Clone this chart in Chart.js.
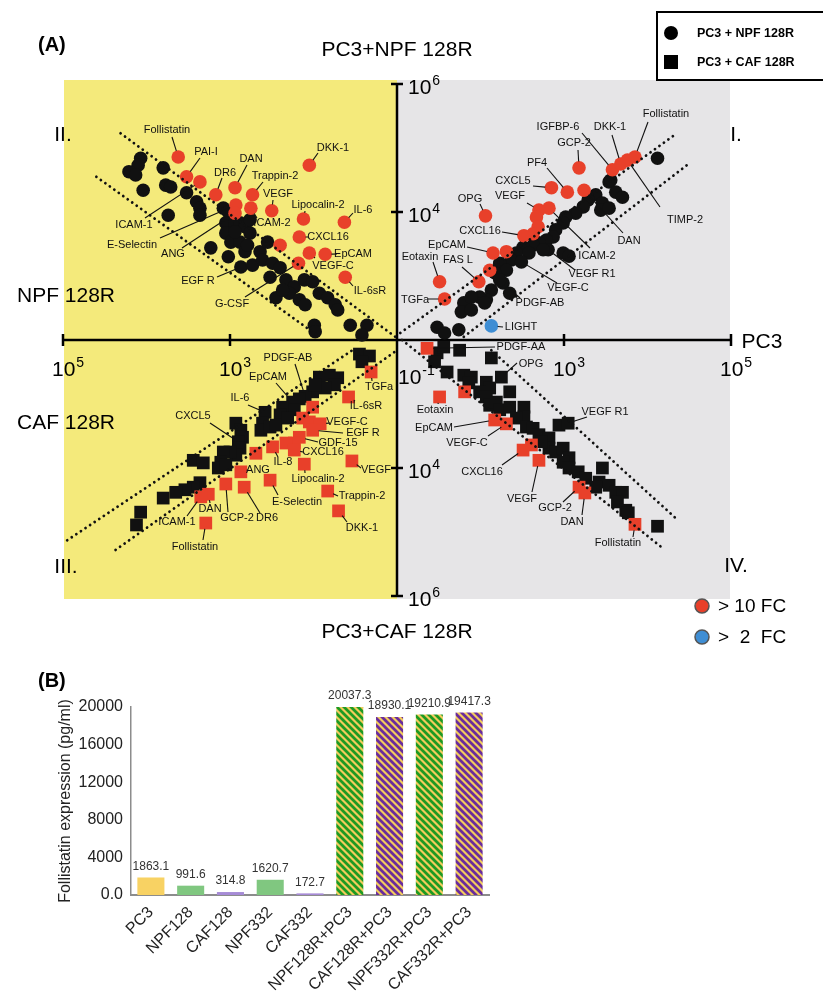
<!DOCTYPE html>
<html>
<head>
<meta charset="utf-8">
<script src="https://cdn.jsdelivr.net/npm/chart.js@4"></script>
<style>
  body { margin: 0; background: #fff; width: 823px; height: 995px; overflow: hidden; position: relative; }
  canvas { position: absolute; left: 0; }
  #quad { top: 0; }
  #bars { top: 650px; }
</style>
</head>
<body>
<canvas id="quad" width="823" height="650"></canvas>
<canvas id="bars" width="823" height="345"></canvas>
<script>
const FONT = "'Liberation Sans', Arial, Helvetica, sans-serif";
Chart.defaults.font.family = FONT;

// ---- panel A: log10 of the signal, [x, y, protein] ----
// the centre of the cross sits at x = 10^1, y = 10^2
const X0 = 1, Y0 = 2;
const xTickPowers = [3, 5];
const yTickPowers = [4, 6];

// I: PC3 (x) vs PC3+NPF 128R (y)
const q1Black = [[4.12,4.84],[3.54,4.47],[3.62,4.31],[3.38,4.27],[3.46,4.14],[3.44,4.03],[3.54,4.06],[3.70,4.23],
  [3.29,4.19],[3.23,4.08],[3.14,3.98],[3.02,3.92],[2.99,3.83],[2.90,3.72],[2.87,3.61],[2.79,3.56],[2.70,3.52],
  [2.63,3.48],[2.99,3.36],[3.06,3.31],[2.51,3.45],[2.43,3.36],[2.37,3.25],[2.23,3.20],[2.31,3.09],[2.17,3.05],
  [2.13,2.78],[2.07,2.63],[1.99,2.67],[2.27,2.89,'PDGF-AB'],[2.35,2.73],[1.80,2.58],[1.77,2.44],[1.89,2.67],
  [1.48,2.20],[1.57,2.11],[1.74,2.16],[2.05,2.58],[2.81,3.41,'VEGF R1'],[2.58,3.36],[2.75,3.41],[3.56,4.50],
  [2.49,3.22,'VEGF-C'],[2.23,2.94],[1.89,2.47]];
const q1Red = [[3.18,4.69,'GCP-2'],[3.04,4.31,'PF4'],[2.85,4.38,'CXCL5'],[3.24,4.34,'DAN'],[2.06,3.94,'OPG'],
  [2.82,4.06,'ICAM-2'],[2.70,4.03,'VEGF'],[2.67,3.92],[2.69,3.77],[2.63,3.66],[2.52,3.63,'CXCL16'],
  [2.15,3.36,'EpCAM'],[2.31,3.38],[2.11,3.09],[1.98,2.91,'FAS L'],[1.51,2.91,'Eotaxin'],[1.57,2.64,'TGFa'],
  [3.58,4.66,'IGFBP-6'],[3.68,4.75,'DKK-1'],[3.76,4.81,'TIMP-2'],[3.85,4.86,'Follistatin']];
const q1Blue = [[2.13,2.22,'LIGHT']];

// II: NPF 128R (x, to the left) vs PC3+NPF 128R (y)
const q2Black = [[4.07,4.84],[4.10,4.73],[4.21,4.63],[4.13,4.58],[3.80,4.69],[4.04,4.34],[3.77,4.42],[3.71,4.39],
  [3.52,4.30],[3.40,4.16],[3.36,4.06],[3.36,3.95],[3.74,3.95],[3.08,4.06],[3.02,4.00],[3.05,3.83],[2.94,3.83],
  [2.88,3.83],[2.82,3.77],[2.76,3.67],[3.05,3.67],[2.99,3.53],[2.88,3.53],[3.23,3.44],[3.02,3.30],[2.82,3.38],
  [2.64,3.38],[2.55,3.53],[2.87,3.14,'EGF R'],[2.73,3.17],[2.61,3.25],[2.49,3.20],[2.40,3.13],[2.52,2.98],
  [2.45,2.66],[2.33,2.94],[2.23,2.83],[2.11,2.94],[2.01,2.91],[2.29,2.73],[2.17,2.63],[2.10,2.55],[1.93,2.73],
  [1.83,2.66],[1.74,2.55],[1.71,2.47],[1.99,2.23],[1.98,2.13],[1.56,2.23],[1.36,2.23],[1.42,2.08],[2.94,3.69],
  [2.79,3.48],[2.37,2.78],[2.76,3.88]];
const q2Red = [[3.62,4.86,'Follistatin'],[3.52,4.55,'PAI-I'],[3.36,4.47,'ICAM-1'],[3.17,4.27,'DR6'],
  [2.94,4.38,'DAN'],[2.73,4.27,'Trappin-2'],[2.93,4.11,'E-Selectin'],[2.94,3.98,'ANG'],[2.75,4.06,'ICAM-2'],
  [2.50,4.02,'VEGF'],[2.05,4.73,'DKK-1'],[2.12,3.89,'Lipocalin-2'],[1.63,3.84,'IL-6'],[2.17,3.61,'CXCL16'],
  [2.05,3.36,'VEGF-C'],[1.86,3.34,'EpCAM'],[2.40,3.48],[2.18,3.20,'G-CSF'],[1.62,2.98,'IL-6sR']];

// III: CAF 128R (x, to the left) vs PC3+CAF 128R (y, downwards)
const q3Black = [[1.45,2.22],[1.33,2.25],[1.42,2.34],[1.93,2.58],[1.81,2.55],[1.71,2.59],[1.75,2.70],[1.86,2.75],
  [2.01,2.81],[2.10,2.88,'PDGF-AB'],[2.17,2.92],[2.25,2.97,'EpCAM'],[2.23,3.09],[2.37,3.05],[2.40,3.17],
  [2.58,3.13,'IL-6'],[2.61,3.30],[2.63,3.41],[2.52,3.36],[2.45,3.33],[2.93,3.30],[2.87,3.41],[2.85,3.52],
  [2.90,3.59,'CXCL5'],[2.88,3.69],[2.93,3.80],[3.00,3.75],[3.08,3.75],[3.11,3.91],[3.14,4.00],[3.05,3.95],
  [3.44,3.88],[3.32,3.92],[3.36,4.23],[3.44,4.30],[3.54,4.34],[3.65,4.38],[3.80,4.47],[4.07,4.69],[4.12,4.89],
  [1.98,2.70],[2.31,3.22]];
const q3Red = [[1.31,2.50,'TGFa'],[1.58,2.89,'IL-6sR'],[2.01,3.05],[2.13,3.22],[2.05,3.28],[1.92,3.31,'VEGF-C'],
  [2.01,3.41,'EGF R'],[2.17,3.52,'GDF-15'],[2.23,3.61],[2.33,3.61],[2.23,3.72,'CXCL16'],[2.49,3.67,'IL-8'],
  [2.69,3.77],[1.54,3.89,'VEGF'],[2.11,3.94,'Lipocalin-2'],[2.87,4.06,'ANG'],[2.52,4.19,'E-Selectin'],
  [3.05,4.25,'GCP-2'],[2.83,4.30,'DR6'],[3.26,4.41,'DAN'],[3.35,4.45,'ICAM-1'],[1.83,4.36,'Trappin-2'],
  [1.70,4.67,'DKK-1'],[3.29,4.86,'Follistatin']];

// IV: PC3 (x) vs PC3+CAF 128R (y, downwards)
const q4Black = [[1.48,2.20],[1.56,2.11],[1.45,2.34],[1.75,2.16],[2.13,2.28],[1.60,2.50],[1.80,2.55],[1.89,2.58],
  [1.86,2.67],[2.07,2.66],[2.11,2.75],[2.25,2.58,'OPG'],[1.99,2.81],[2.07,2.89],[2.35,2.81],[2.11,3.02],
  [2.19,2.97],[2.23,3.09],[2.35,3.05],[2.52,3.05],[2.52,3.20],[2.43,3.22],[2.55,3.36],[2.63,3.38],[2.70,3.48],
  [2.82,3.53],[2.82,3.69],[2.90,3.75],[2.99,3.69],[3.06,3.84],[2.99,3.91],[2.94,3.33],[3.05,3.30,'VEGF R1'],
  [3.06,4.00],[3.17,4.06],[3.26,4.16],[3.46,4.00],[3.42,4.22],[3.38,4.30],[3.54,4.27],[3.62,4.38],[3.70,4.38],
  [3.64,4.53],[3.74,4.66],[3.77,4.70],[4.12,4.91],[2.73,3.59]];
const q4Red = [[1.36,2.13,'PDGF-AA'],[1.51,2.89,'Eotaxin'],[1.81,2.81],[2.17,3.25,'EpCAM'],[2.31,3.31,'VEGF-C'],
  [2.51,3.72,'CXCL16'],[2.61,3.64],[2.70,3.88,'VEGF'],[3.18,4.30,'GCP-2'],[3.25,4.39,'DAN'],
  [3.85,4.88,'Follistatin']];

// fold-change guide lines, end points in log10 units
const q1Lines = [[[1.04,2.11],[4.31,5.19]], [[1.80,2.05],[4.51,4.77]]];
const q2Lines = [[[4.31,5.23],[1.02,2.05]], [[4.60,4.55],[1.93,2.05]]];
const q3Lines = [[[4.95,5.13],[1.50,2.13]], [[4.37,5.28],[1.00,2.16]]];
const q4Lines = [[[2.13,2.16],[4.36,4.81]], [[1.06,2.00],[4.18,5.25]]];

// label placement (px): text centre x, y, leader start x, y
const q1Labels = {
  'Follistatin': [666,114,648,122], 'IGFBP-6': [558,127,582,133], 'DKK-1': [610,127,612,135],
  'TIMP-2': [685,220,660,207], 'GCP-2': [574,143,578,150], 'PF4': [537,163,547,168],
  'CXCL5': [513,181,533,186], 'OPG': [470,199,480,204], 'VEGF': [510,196,527,203],
  'DAN': [629,241,623,233], 'ICAM-2': [597,256,590,248], 'CXCL16': [480,231,502,232],
  'EpCAM': [447,245,467,247], 'VEGF R1': [592,274,575,270], 'VEGF-C': [568,288,557,283],
  'Eotaxin': [420,257,433,262], 'FAS L': [458,260,462,267], 'TGFa': [415,300,428,299],
  'PDGF-AB': [540,303,520,298], 'LIGHT': [521,327,503,327]
};
const q2Labels = {
  'Follistatin': [167,130,172,137], 'PAI-I': [206,152,200,158], 'ICAM-1': [134,225,145,218],
  'E-Selectin': [132,245,160,238], 'ANG': [173,254,182,248], 'DR6': [225,173,222,178],
  'DAN': [251,159,247,165], 'Trappin-2': [275,176,263,182], 'DKK-1': [333,148,318,153],
  'VEGF': [278,194,273,200], 'ICAM-2': [272,223,257,218], 'Lipocalin-2': [318,205,305,211],
  'IL-6': [363,210,353,213], 'CXCL16': [328,237,308,237], 'EpCAM': [353,254,337,254],
  'VEGF-C': [333,266,315,258], 'IL-6sR': [370,291,353,286], 'EGF R': [198,281,217,277],
  'G-CSF': [232,304,245,297]
};
const q3Labels = {
  'PDGF-AB': [288,358,295,364], 'EpCAM': [268,377,276,383], 'IL-6': [240,398,248,405],
  'CXCL5': [193,416,210,423], 'TGFa': [379,387,372,381], 'IL-6sR': [366,406,355,401],
  'VEGF-C': [347,422,330,423], 'EGF R': [363,433,343,433], 'GDF-15': [338,443,318,442],
  'CXCL16': [323,452,303,452], 'IL-8': [283,462,278,457], 'ANG': [258,470,248,470],
  'Lipocalin-2': [318,479,305,473], 'VEGF': [376,470,361,468], 'Trappin-2': [362,496,338,496],
  'E-Selectin': [297,502,278,495], 'DKK-1': [362,528,347,522], 'DR6': [267,518,260,513],
  'GCP-2': [237,518,228,512], 'DAN': [210,509,210,503], 'ICAM-1': [177,522,187,516],
  'Follistatin': [195,547,203,540]
};
const q4Labels = {
  'PDGF-AA': [521,347,495,347], 'OPG': [531,364,517,363], 'Eotaxin': [435,410,438,404],
  'EpCAM': [434,428,454,427], 'VEGF-C': [467,443,488,436], 'VEGF R1': [605,412,587,417],
  'CXCL16': [482,472,502,465], 'VEGF': [522,499,532,492], 'GCP-2': [555,508,563,502],
  'DAN': [572,522,582,515], 'Follistatin': [618,543,633,537]
};

const RED = '#e8402a', BLACK = '#111111', BLUE = '#3f8ed4';
const YELLOW = '#f4ea7b', GREY = '#e6e5e7';

const quadrants = [
  { black: q1Black, red: q1Red, blue: q1Blue, sx: 1, sy: 1, shape: 'circle', lines: q1Lines, labels: q1Labels },
  { black: q2Black, red: q2Red, blue: [], sx: -1, sy: 1, shape: 'circle', lines: q2Lines, labels: q2Labels },
  { black: q3Black, red: q3Red, blue: [], sx: -1, sy: -1, shape: 'rect', lines: q3Lines, labels: q3Labels },
  { black: q4Black, red: q4Red, blue: [], sx: 1, sy: -1, shape: 'rect', lines: q4Lines, labels: q4Labels }
];

const place = q => p => ({ x: q.sx * (p[0] - X0), y: q.sy * (p[1] - Y0) });
const radius = q => q.shape === 'circle' ? 6.8 : 9;

const quadSets = [];
quadrants.forEach(q => {
  q.lines.forEach(l => quadSets.push({
    data: l.map(place(q)), showLine: true, pointRadius: 0, borderColor: '#111',
    borderWidth: 2.8, borderDash: [0.01, 5.5], borderCapStyle: 'round', order: 0, clip: false
  }));
  [[q.red, RED, 1], [q.blue, BLUE, 1], [q.black, BLACK, 2]].forEach(([pts, col, ord]) => {
    if (!pts.length) return;
    quadSets.push({
      data: pts.map(place(q)), pointStyle: q.shape, pointRadius: radius(q), pointHoverRadius: radius(q),
      backgroundColor: col, borderWidth: 0, order: ord, clip: false
    });
  });
});

function power(ctx, exp, x, base) {
  ctx.font = '21px ' + FONT;
  ctx.fillText('10', x, base);
  const w = ctx.measureText('10').width;
  ctx.font = '14px ' + FONT;
  ctx.fillText(exp, x + w + 1, base - 9);
}

const quadDecor = {
  id: 'quadDecor',
  beforeDatasetsDraw(chart) {
    const { ctx, scales: { x, y } } = chart;
    const ox = x.getPixelForValue(0), oy = y.getPixelForValue(0);
    const left = x.getPixelForValue(-4), right = x.getPixelForValue(4);
    const top = y.getPixelForValue(4), bottom = y.getPixelForValue(-4);
    ctx.save();
    ctx.fillStyle = YELLOW;
    ctx.fillRect(left + 1, top - 4, ox - left - 1, bottom - top + 7);
    ctx.fillStyle = GREY;
    ctx.fillRect(ox, top - 4, right - ox - 1, bottom - top + 7);
    ctx.strokeStyle = '#000';
    ctx.lineWidth = 2.5;
    ctx.beginPath();
    ctx.moveTo(left, oy); ctx.lineTo(right, oy);
    ctx.moveTo(ox, top); ctx.lineTo(ox, bottom);
    xTickPowers.forEach(p => [-1, 1].forEach(s => {
      const px = x.getPixelForValue(s * (p - X0));
      ctx.moveTo(px, oy - 6); ctx.lineTo(px, oy + 6);
    }));
    yTickPowers.forEach(p => [-1, 1].forEach(s => {
      const py = y.getPixelForValue(s * (p - Y0));
      ctx.moveTo(ox - 6, py); ctx.lineTo(ox + 6, py);
    }));
    ctx.stroke();
    ctx.restore();
  },
  afterDatasetsDraw(chart) {
    const { ctx, scales: { x, y } } = chart;
    const ox = x.getPixelForValue(0), oy = y.getPixelForValue(0);
    ctx.save();
    // leaders and protein names
    ctx.strokeStyle = '#111';
    ctx.lineWidth = 1.1;
    ctx.fillStyle = '#111';
    ctx.textAlign = 'center';
    ctx.textBaseline = 'middle';
    ctx.font = '11px ' + FONT;
    quadrants.forEach(q => {
      const pts = [...q.black, ...q.red, ...q.blue];
      const r = q.shape === 'circle' ? 6.3 : 6;
      Object.entries(q.labels).forEach(([name, [tx, ty, sx, sy]]) => {
        const p = pts.find(pt => pt[2] === name);
        if (p) {
          const pp = place(q)(p);
          const px = x.getPixelForValue(pp.x), py = y.getPixelForValue(pp.y);
          const d = Math.hypot(px - sx, py - sy);
          if (d > r + 1) {
            ctx.beginPath();
            ctx.moveTo(sx, sy);
            ctx.lineTo(px - (px - sx) * r / d, py - (py - sy) * r / d);
            ctx.stroke();
          }
        }
        ctx.fillText(name, tx, ty);
      });
    });
    // tick labels
    ctx.fillStyle = '#000';
    ctx.textAlign = 'left';
    ctx.textBaseline = 'alphabetic';
    xTickPowers.forEach(p => [-1, 1].forEach(s => {
      power(ctx, String(p), x.getPixelForValue(s * (p - X0)) - 11, oy + 36);
    }));
    yTickPowers.forEach(p => [-1, 1].forEach(s => {
      power(ctx, String(p), ox + 11, y.getPixelForValue(s * (p - Y0)) + 10);
    }));
    power(ctx, '-1', ox + 1, oy + 44);
    // titles
    ctx.font = '21px ' + FONT;
    ctx.textAlign = 'center';
    ctx.textBaseline = 'middle';
    ctx.fillText('PC3+NPF 128R', ox, 50);
    ctx.fillText('PC3+CAF 128R', ox, 632);
    ctx.fillText('PC3', 762, 342);
    ctx.fillText('NPF 128R', 66, 296);
    ctx.fillText('CAF 128R', 66, 423);
    ctx.fillText('II.', 63, 135);
    ctx.fillText('I.', 736, 135);
    ctx.fillText('III.', 66, 567);
    ctx.fillText('IV.', 736, 566);
    ctx.font = 'bold 20px ' + FONT;
    ctx.textAlign = 'left';
    ctx.fillText('(A)', 38, 45);
    // legend box
    ctx.lineWidth = 2;
    ctx.strokeStyle = '#000';
    ctx.strokeRect(657, 12, 200, 68);
    ctx.fillStyle = '#000';
    ctx.beginPath(); ctx.arc(671, 33, 7, 0, Math.PI * 2); ctx.fill();
    ctx.fillRect(664, 55, 14, 14);
    ctx.font = 'bold 12.5px ' + FONT;
    ctx.fillText('PC3 + NPF 128R', 697, 34);
    ctx.fillText('PC3 + CAF 128R', 697, 63);
    // fold-change key
    [[RED, '> 10 FC', 606], [BLUE, '>  2  FC', 637]].forEach(([c, t, ky]) => {
      ctx.beginPath(); ctx.arc(702, ky, 7, 0, Math.PI * 2);
      ctx.fillStyle = c; ctx.fill();
      ctx.lineWidth = 1.5; ctx.strokeStyle = '#555'; ctx.stroke();
      ctx.fillStyle = '#000';
      ctx.font = '19px ' + FONT;
      ctx.fillText(t, 718, ky + 1);
    });
    ctx.restore();
  }
};

new Chart(document.getElementById('quad'), {
  type: 'scatter',
  data: { datasets: quadSets },
  options: {
    responsive: false,
    animation: false,
    devicePixelRatio: 1,
    layout: { padding: { left: 63, right: 92, top: 84, bottom: 54 } },
    scales: {
      x: { type: 'linear', min: -4, max: 4, display: false },
      y: { type: 'linear', min: -4, max: 4, display: false }
    },
    plugins: { legend: { display: false }, tooltip: { enabled: false } }
  },
  plugins: [quadDecor]
});

// ---- panel B ----
const barLabels = ['PC3', 'NPF128', 'CAF128', 'NPF332', 'CAF332',
  'NPF128R+PC3', 'CAF128R+PC3', 'NPF332R+PC3', 'CAF332R+PC3'];
const follistatin = [1863.1, 991.6, 314.8, 1620.7, 172.7, 20037.3, 18930.1, 19210.9, 19417.3];

const barCtx = document.getElementById('bars').getContext('2d');
function stripes(stripe) {
  const c = document.createElement('canvas');
  c.width = c.height = 7;
  const g = c.getContext('2d');
  g.fillStyle = '#f3cc5c';
  g.fillRect(0, 0, 7, 7);
  g.strokeStyle = stripe;
  g.lineWidth = 2.8;
  g.beginPath();
  [-7, 0, 7].forEach(k => { g.moveTo(k - 1, -1); g.lineTo(k + 8, 8); });
  g.stroke();
  return barCtx.createPattern(c, 'repeat');
}
const greenStripes = stripes('#1e9a22');
const purpleStripes = stripes('#6a2c9c');
const barFills = barLabels.map(l => {
  if (l === 'PC3') return '#f8d263';
  const npf = l.startsWith('NPF');
  if (l.includes('+')) return npf ? greenStripes : purpleStripes;
  return npf ? '#80c780' : '#a68bd6';
});

const barValues = {
  id: 'barValues',
  afterDatasetsDraw(chart) {
    const { ctx } = chart;
    ctx.save();
    ctx.font = '12px ' + FONT;
    ctx.fillStyle = '#333';
    ctx.textAlign = 'center';
    ctx.textBaseline = 'bottom';
    chart.getDatasetMeta(0).data.forEach((bar, i) => {
      ctx.fillText(follistatin[i].toFixed(1), bar.x, bar.y - 5);
    });
    ctx.font = 'bold 20px ' + FONT;
    ctx.fillStyle = '#000';
    ctx.textAlign = 'left';
    ctx.textBaseline = 'middle';
    ctx.fillText('(B)', 38, 31);
    ctx.restore();
  }
};

new Chart(barCtx, {
  type: 'bar',
  data: {
    labels: barLabels,
    datasets: [{ data: follistatin, backgroundColor: barFills, borderWidth: 0, barPercentage: 0.68, categoryPercentage: 1 }]
  },
  options: {
    responsive: false,
    animation: false,
    devicePixelRatio: 1,
    layout: { padding: { left: 56, right: 334, top: 57, bottom: 0 } },
    scales: {
      x: {
        grid: { display: false, drawTicks: false },
        border: { display: true, color: '#8c8c8c', width: 2 },
        ticks: { autoSkip: false, minRotation: 45, maxRotation: 45, padding: 8, color: '#222', font: { size: 16 } },
        afterFit(s) { s.height = 100; }
      },
      y: {
        min: 0, max: 20000,
        grid: { display: false, drawTicks: false },
        border: { display: true, color: '#8c8c8c', width: 1.5 },
        ticks: { stepSize: 4000, padding: 8, color: '#222', font: { size: 16 },
          callback: v => v === 0 ? '0.0' : String(v) },
        title: { display: true, text: 'Follistatin expression (pg/ml)', color: '#222', font: { size: 16 }, padding: 0 },
        afterFit(s) { s.width = 75; }
      }
    },
    plugins: { legend: { display: false }, tooltip: { enabled: false } }
  },
  plugins: [barValues]
});
</script>
</body>
</html>
